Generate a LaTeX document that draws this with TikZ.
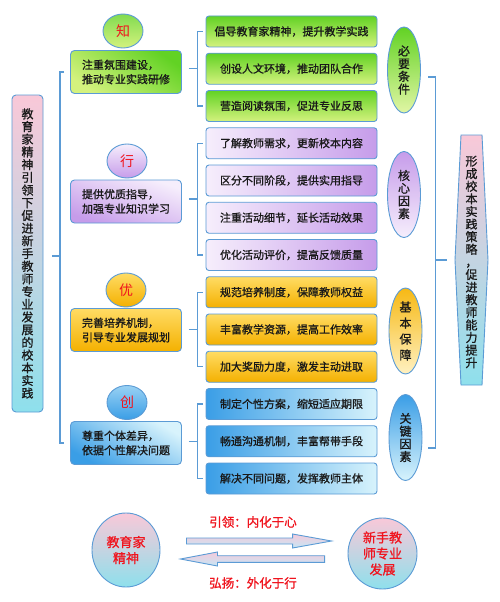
\documentclass[tikz,border=0pt]{standalone}
\usepackage{fontspec}
\newfontfamily\cjk[AutoFakeBold=1.0]{Noto Sans CJK SC}
\usetikzlibrary{shapes.geometric,calc}
\definecolor{bord}{HTML}{5B9BD5}
\definecolor{redt}{HTML}{F0141E}
\definecolor{gA}{HTML}{62D224}
\definecolor{gB}{HTML}{D4F27E}
\definecolor{pA}{HTML}{F6EEFC}
\definecolor{pB}{HTML}{C69CEA}
\definecolor{oA}{HTML}{FFDC64}
\definecolor{oB}{HTML}{F4B000}
\definecolor{bA}{HTML}{3A9EE6}
\definecolor{bB}{HTML}{D8F3FC}
\definecolor{pinkc}{HTML}{F9C8D8}
\definecolor{cyanc}{HTML}{8EE0EC}
\definecolor{arA}{HTML}{F4CADB}
\definecolor{arB}{HTML}{C5E6F5}
\begin{document}
\begin{tikzpicture}[x=1pt,y=-1pt,
 conn/.style={draw=bord,line width=1.3pt},
 sbox/.style={draw=bord,line width=0.9pt,rounded corners=3pt,minimum width=171pt,minimum height=31pt,inner sep=0pt,font=\cjk\bfseries\fontsize{11}{13}\selectfont,text=black!90},
 mbox/.style={draw=bord,line width=0.9pt,rounded corners=4pt,minimum width=111pt,minimum height=43pt,inner sep=0pt,align=left,font=\cjk\bfseries\fontsize{11}{14.5}\selectfont,text=black!90},
 circ/.style={ellipse,draw=bord,line width=0.9pt,minimum width=40pt,minimum height=34pt,inner sep=0pt,font=\cjk\fontsize{14}{16}\selectfont,text=redt},
 vell/.style={ellipse,draw=bord,line width=0.9pt,minimum width=33pt,minimum height=86pt,inner sep=0pt,align=center,font=\cjk\bfseries\fontsize{12}{12.7}\selectfont,text=black!90},
 bcirc/.style={ellipse,draw=bord,line width=0.9pt,inner sep=0pt,align=center,font=\cjk\bfseries\fontsize{13}{16}\selectfont,text=redt,top color=pinkc,bottom color=cyanc},
 lbl/.style={font=\cjk\bfseries\fontsize{12.5}{14}\selectfont,text=redt,inner sep=0pt},
 arr/.style={draw=bord,line width=0.9pt,top color=arA,bottom color=arB},
 gfill/.style={top color=gA,bottom color=gB},
 pfill/.style={left color=pA,right color=pB},
 ofill/.style={top color=oA,bottom color=oB},
 bfill/.style={left color=bA,right color=bB}
]
\fill[white] (0,0) rectangle (500,602);
% left title box
\node[draw=bord,line width=0.9pt,rounded corners=4pt,minimum width=31pt,minimum height=317pt,inner sep=0pt,
  top color=pinkc,bottom color=cyanc,align=center,font=\cjk\bfseries\fontsize{12}{12.7}\selectfont,text=black!90] (L) at (27.5,253.5)
 {教\\育\\家\\精\\神\\引\\领\\下\\促\\进\\新\\手\\教\\师\\专\\业\\发\\展\\的\\校\\本\\实\\践};
% main boxes
\node[mbox,top color=gA,bottom color=gB,shading angle=-35] (m1) at (126,72) {注重氛围建设，\\推动专业实践研修};
\node[mbox,left color=pA,right color=pB,shading angle=-20] (m2) at (126,201.5) {提供优质指导，\\加强专业知识学习};
\node[mbox,ofill] (m3) at (126,330) {完善培养机制，\\引导专业发展规划};
\node[mbox,top color=bB,bottom color=bA,shading angle=-30] (m4) at (126,443) {尊重个体差异，\\依据个性解决问题};
% circles
\node[circ,top color=gA!80,bottom color=gB] (c1) at (123,31) {知};
\node[circ,top color=pA,bottom color=pB] (c2) at (127,161) {行};
\node[circ,ofill] (c3) at (126,290) {优};
\node[circ,top color=bB!60!bA,bottom color=bA] (c4) at (127,402.5) {创};
% small boxes
\node[sbox,gfill] (s0) at (291.5,31.5) {倡导教育家精神，提升教学实践};
\node[sbox,gfill] (s1) at (291.5,68.75) {创设人文环境，推动团队合作};
\node[sbox,gfill] (s2) at (291.5,106) {营造阅读氛围，促进专业反思};
\node[sbox,pfill] (s3) at (291.5,143.25) {了解教师需求，更新校本内容};
\node[sbox,pfill] (s4) at (291.5,180.5) {区分不同阶段，提供实用指导};
\node[sbox,pfill] (s5) at (291.5,217.75) {注重活动细节，延长活动效果};
\node[sbox,pfill] (s6) at (291.5,255) {优化活动评价，提高反馈质量};
\node[sbox,ofill] (s7) at (291.5,292.25) {规范培养制度，保障教师权益};
\node[sbox,ofill] (s8) at (291.5,329.5) {丰富教学资源，提高工作效率};
\node[sbox,ofill] (s9) at (291.5,366.75) {加大奖励力度，激发主动进取};
\node[sbox,bfill] (s10) at (291.5,404) {制定个性方案，缩短适应期限};
\node[sbox,bfill] (s11) at (291.5,441.25) {畅通沟通机制，丰富帮带手段};
\node[sbox,bfill] (s12) at (291.5,478.5) {解决不同问题，发挥教师主体};
% right ellipses
\node[vell,top color=gA,bottom color=gB!70!white] (e1) at (404,70) {必\\要\\条\\件};
\node[vell,top color=pB,bottom color=pA] (e2) at (404,194.5) {核\\心\\因\\素};
\node[vell,top color=oB!80!oA,bottom color=oA!40!white,font=\cjk\bfseries\fontsize{12}{16}\selectfont] (e3) at (405.5,331) {基\\本\\保\\障};
\node[vell,top color=bA,bottom color=bB] (e4) at (405.5,437.5) {关\\键\\因\\素};
% right tall box
\coordinate (Rc) at (471.5,260);
\path[draw=bord,line width=0.9pt,top color=pinkc,bottom color=cyanc]
  ($(Rc)+(-10.5,-125)$) -- ($(Rc)+(10.5,-125)$) -- ($(Rc)+(16.5,0)$) -- ($(Rc)+(10.5,125)$)
  -- ($(Rc)+(-10.5,125)$) -- ($(Rc)+(-16.5,0)$) -- cycle;
\node[align=center,inner sep=0pt,font=\cjk\bfseries\fontsize{12}{12.6}\selectfont,text=black!90] (R) at ($(Rc)+(0,2)$)
 {形\\成\\校\\本\\实\\践\\策\\略\\，\\促\\进\\教\\师\\能\\力\\提\\升};
% big bracket
\draw[conn] ([xshift=-6pt]m1.west) -- ([xshift=-10pt]m1.west) -- ([xshift=-10pt]m4.west) -- ([xshift=-6pt]m4.west);
\draw[conn] ([xshift=9pt]L.east) ++(0,2.5) -- ([xshift=-10pt,yshift=-2.5pt]m1.west |- L.east);
% group brackets
\draw[conn] ([xshift=-3pt]s0.west) -- ([xshift=-8pt]s0.west) -- ([xshift=-8pt]s2.west) -- ([xshift=-3pt]s2.west);
\draw[conn] ([xshift=-3pt]s3.west) -- ([xshift=-8pt]s3.west) -- ([xshift=-8pt]s6.west) -- ([xshift=-3pt]s6.west);
\draw[conn] ([xshift=-3pt]s7.west) -- ([xshift=-8pt]s7.west) -- ([xshift=-8pt]s9.west) -- ([xshift=-3pt]s9.west);
\draw[conn] ([xshift=-3pt]s10.west) -- ([xshift=-8pt]s10.west) -- ([xshift=-8pt]s12.west) -- ([xshift=-3pt]s12.west);
\coordinate (g1) at ($(s0.west)!0.5!(s2.west)$);
\coordinate (g2) at ($(s3.west)!0.5!(s6.west)$);
\coordinate (g3) at ($(s7.west)!0.5!(s9.west)$);
\coordinate (g4) at ($(s10.west)!0.5!(s12.west)$);
\draw[conn] (g1 -| m1.east) ++(7,0) -- ([xshift=-8pt]g1);
\draw[conn] (g2 -| m2.east) ++(7,0) -- ([xshift=-8pt]g2);
\draw[conn] (g3 -| m3.east) ++(7,0) -- ([xshift=-8pt]g3);
\draw[conn] (g4 -| m4.east) ++(7,0) -- ([xshift=-8pt]g4);
% right bracket
\coordinate (rt) at ($(e1.east)+(14.5,7)$);
\coordinate (rb) at ($(rt |- e4.east)+(0,10.5)$);
\draw[conn] ([xshift=-7pt]rt) -- (rt) -- (rb) -- ([xshift=-7pt]rb);
\draw[conn] (rt |- Rc) -- ++(12,0);
% bottom circles
\node[bcirc,minimum width=68pt,minimum height=74pt] (B1) at (126,550) {教育家\\精神};
\node[bcirc,minimum width=69pt,minimum height=71pt] (B2) at (382.5,553.5) {新手教\\师专业\\发展};
% arrows
\coordinate (a1s) at ($(B1.east)+(26,-9)$);
\coordinate (a1e) at ($(B2.west)+(-16,-12.5)$);
\coordinate (a2e) at ($(B1.east)+(20,9)$);
\coordinate (a2s) at ($(B2.west)+(-23,5.5)$);
\path[arr] ($(a1s)+(0,-3)$) -- ($(a1e)+(-39,-3)$) -- ($(a1e)+(-39,-7)$) -- (a1e) -- ($(a1e)+(-39,7)$) -- ($(a1e)+(-39,3)$) -- ($(a1s)+(0,3)$) -- cycle;
\path[arr] ($(a2s)+(0,-3.3)$) -- ($(a2e)+(37,-3.3)$) -- ($(a2e)+(37,-7)$) -- (a2e) -- ($(a2e)+(37,7)$) -- ($(a2e)+(37,3.3)$) -- ($(a2s)+(0,3.3)$) -- cycle;
\node[lbl] (t1) at (253,522) {引领：内化于心};
\node[lbl] (t2) at (253,583) {弘扬：外化于行};
\end{tikzpicture}
\end{document}
